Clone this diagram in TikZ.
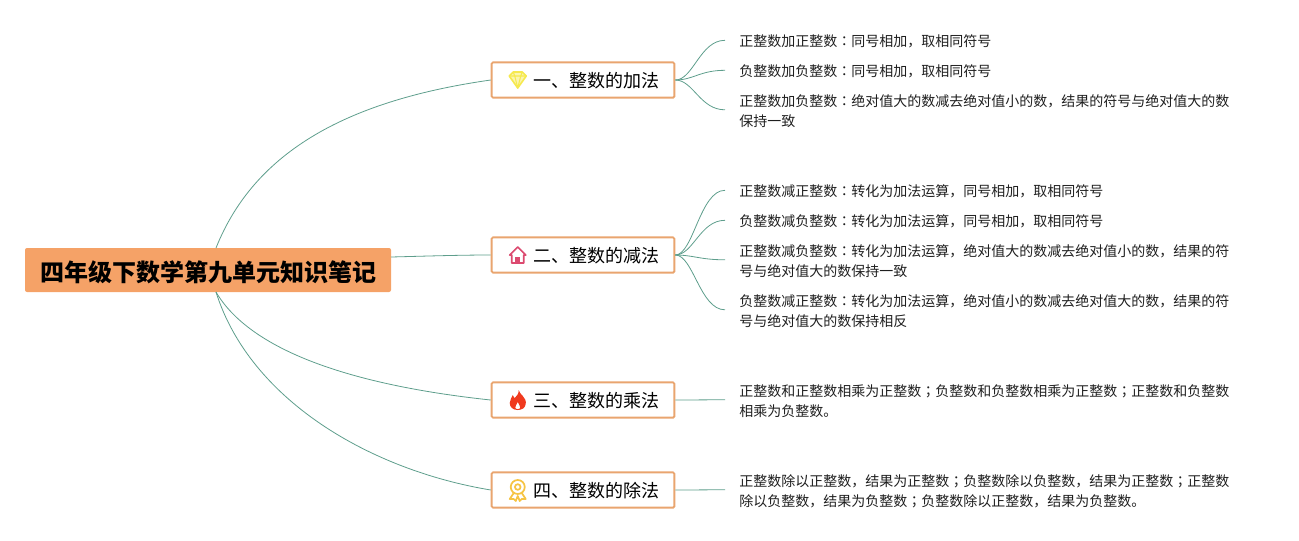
\documentclass[tikz,border=0pt]{standalone}
\usepackage{fontspec}
\setmainfont{Noto Sans CJK SC}
\newfontfamily\puncttc{Noto Sans CJK TC}
\newcommand{\cln}{{\puncttc：}}
\newcommand{\sml}{{\puncttc；}}
\usepackage{xcolor}
\definecolor{RootFill}{HTML}{F5A267}
\definecolor{BoxLine}{HTML}{E9A56F}
\definecolor{WireTeal}{HTML}{5E9E8C}
\definecolor{Gold}{HTML}{F6E94E}
\definecolor{HutRed}{HTML}{DC4A70}
\definecolor{FlameRed}{HTML}{F03A1E}
\definecolor{MedalGold}{HTML}{F6C443}
\usetikzlibrary{positioning}

\begin{document}
\begin{tikzpicture}[
  x=.75pt,y=-.75pt,
  wire/.style={line width=.6pt,draw=WireTeal},
  root/.style={fill=RootFill,rounded corners=1.5pt,minimum width=274.5pt,minimum height=33pt,inner sep=0pt,text height=18pt,text depth=.4pt,font=\fontsize{18}{20}\selectfont\bfseries},
  topic/.style={draw=BoxLine,fill=white,line width=1.4pt,rounded corners=1pt,minimum width=137pt,minimum height=26.5pt,inner sep=0pt,text height=12pt,text depth=.2pt,font=\fontsize{13.5}{16}\selectfont},
  leaf/.style={anchor=west,align=left,inner xsep=10.5pt,inner ysep=0pt,text=black!88,font=\fontsize{10.5}{15}\selectfont},
  gem/.pic={
    \draw[draw=Gold,line width=1.2pt,line join=round,fill=Gold!45] (-8.5,-4) -- (-4.5,-8) -- (4.5,-8) -- (8.5,-4) -- (0,8) -- cycle;
    \draw[draw=Gold,line width=.8pt,line join=round] (-8.5,-4) -- (8.5,-4) (-4.5,-8) -- (-3,-4) -- (0,8) -- (3,-4) -- (4.5,-8);
  },
  hut/.pic={
    \draw[draw=HutRed,line width=1.3pt,line join=round] (-8,0) -- (0,-8) -- (8,0) -- (6,0) -- (6,8) -- (-6,8) -- (-6,0) -- cycle;
    \fill[HutRed] (-2.5,8) -- (-2.5,2) -- (2.5,2) -- (2.5,8) -- cycle;
  },
  flame/.pic={
    \fill[FlameRed,even odd rule] (1,-10) .. controls (2,-5) and (9,-3) .. (8,4) .. controls (7.5,8) and (4,10) .. (0,10) .. controls (-5,10) and (-8,7) .. (-8,3) .. controls (-8,0) and (-6,-2) .. (-5,-5) .. controls (-4,-3) and (-3.5,-2) .. (-3,-2) .. controls (-1,-4) and (1,-6) .. (1,-10) -- cycle
      (0,2) .. controls (-1,5) and (-3,6) .. (-2.5,8) .. controls (-2,9.5) and (2,9.5) .. (2.5,8) .. controls (3,6) and (1,5) .. (0,2) -- cycle;
  },
  medal/.pic={
    \draw[draw=MedalGold,line width=1.3pt] (0,-3) circle (7);
    \draw[draw=MedalGold,line width=1.3pt] (0,-3) circle (2.8);
    \draw[draw=MedalGold,line width=1.3pt,line join=round] (-4,3) -- (-8,9) -- (-4,9) -- (-2,11) -- (0,6) -- (2,11) -- (4,9) -- (8,9) -- (4,3);
  }
]
\useasboundingbox (0,0) rectangle (1299,540);
\node[root] (notes) at (208,270) {四年级下数学第九单元知识笔记};
% topics
\node[topic] (add) at (583,80) {\hspace*{19.5pt}一、整数的加法};
\node[topic] (sub) at (583,255) {\hspace*{19.5pt}二、整数的减法};
\node[topic] (mul) at (583,400) {\hspace*{19.5pt}三、整数的乘法};
\node[topic] (div) at (583,490) {\hspace*{19.5pt}四、整数的除法};
\pic at ([xshift=20.25pt]add.west) {gem};
\pic at ([xshift=20.25pt]sub.west) {hut};
\pic at ([xshift=20.25pt]mul.west) {flame};
\pic at ([xshift=20.25pt]div.west) {medal};
% leaves
\node[leaf] (adda) at (725,41.5) {正整数加正整数\cln 同号相加，取相同符号};
\node[leaf] (addb) at (725,71.5) {负整数加负整数\cln 同号相加，取相同符号};
\node[leaf] (addc) at (725,111) {正整数加负整数\cln 绝对值大的数减去绝对值小的数，结果的符号与绝对值大的数\\保持一致};
\node[leaf] (suba) at (725,191.5) {正整数减正整数\cln 转化为加法运算，同号相加，取相同符号};
\node[leaf] (subb) at (725,221.5) {负整数减负整数\cln 转化为加法运算，同号相加，取相同符号};
\node[leaf] (subc) at (725,261) {正整数减负整数\cln 转化为加法运算，绝对值大的数减去绝对值小的数，结果的符\\号与绝对值大的数保持一致};
\node[leaf] (subd) at (725,311) {负整数减正整数\cln 转化为加法运算，绝对值小的数减去绝对值大的数，结果的符\\号与绝对值大的数保持相反};
\node[leaf] (mula) at (725,401) {正整数和正整数相乘为正整数\sml 负整数和负整数相乘为正整数\sml 正整数和负整数\\相乘为负整数。};
\node[leaf] (diva) at (725,491) {正整数除以正整数，结果为正整数\sml 负整数除以负整数，结果为正整数\sml 正整数\\除以负整数，结果为负整数\sml 负整数除以正整数，结果为负整数。};
\coordinate (upper) at (216,248);
\coordinate (lower) at (216,292);
\coordinate (side) at (391,257);
% wires from the root
\draw[wire] (upper) .. controls (255,150) and (350,100) .. (add.west);
\draw[wire] (side) .. controls (430,256) and (460,255) .. (sub.west);
\draw[wire] (lower) .. controls (250,350) and (350,385) .. (mul.west);
\draw[wire] (lower) .. controls (250,400) and (370,470) .. (div.west);
% wires to the leaves
\foreach \from/\to in {add/adda,add/addb,add/addc,sub/suba,sub/subb,sub/subc,sub/subd,mul/mula,div/diva}
  \draw[wire] (\from.east) .. controls +(18,0) and +(-25,0) .. ([yshift=.9pt]\to.west);
\end{tikzpicture}
\end{document}
